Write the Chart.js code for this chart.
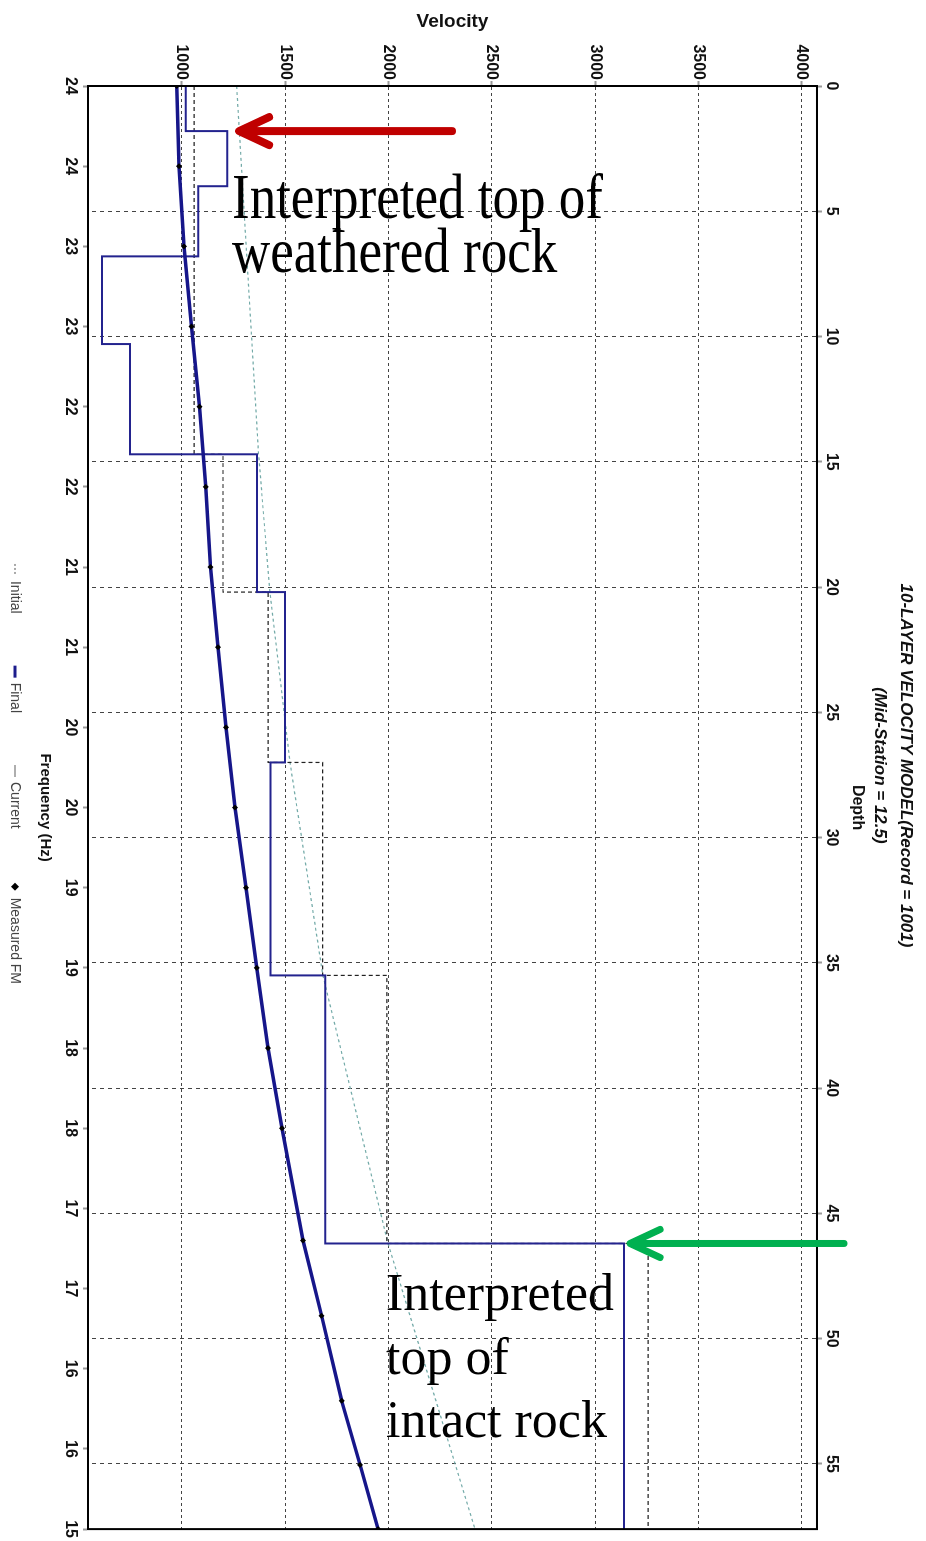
<!DOCTYPE html>
<html>
<head>
<meta charset="utf-8">
<title>10-Layer Velocity Model</title>
<script src="https://cdn.jsdelivr.net/npm/chart.js@4/dist/chart.umd.min.js"></script>
<style>
  html, body { margin: 0; padding: 0; background: #fff; overflow: hidden; }
  /* the plot is laid out landscape and turned a quarter clockwise */
  #wrap {
    position: absolute; left: 0; top: 0;
    width: 1541px; height: 926px;
    transform-origin: 0 0;
    transform: translate(926px, 0) rotate(90deg);
  }
</style>
</head>
<body>
<div id="wrap"><canvas id="model" width="1541" height="926"></canvas></div>
<script>
// layered model: depth to the top of each layer and its velocity
const layerTops = [0, 1.8, 4.0, 6.8, 10.3, 14.7, 20.2, 27.0, 35.5, 46.2];
const finalVel = [1020, 1220, 1080, 615, 750, 1365, 1500, 1430, 1695, 3140];
const initialVel = [1060, 1060, 1060, 1060, 1060, 1200, 1418, 1682, 1993, 3256];

// current curve against depth
const currentDepth = [0, 14.7, 20.2, 27.0, 35.5, 46.2, 57.6];
const currentVel = [1266, 1372, 1427, 1524, 1683, 1998, 2419];

// dispersion picks (frequency in Hz, phase velocity)
const measFreq = [24, 23.5, 23, 22.5, 22, 21.5, 21, 20.5, 20, 19.5, 19, 18.5, 18, 17.5, 16.8, 16.33, 15.8, 15.4, 15];
const measVel = [976, 987, 1011, 1048, 1086, 1116, 1140, 1176, 1214, 1258, 1311, 1363, 1418, 1485, 1587, 1677, 1774, 1863, 1950];

// axes
const depthTicks = [0, 5, 10, 15, 20, 25, 30, 35, 40, 45, 50, 55];
const velTicks = [1000, 1500, 2000, 2500, 3000, 3500, 4000];
const freqTicks = [24, 23.5, 23, 22.5, 22, 21.5, 21, 20.5, 20, 19.5, 19, 18.5, 18, 17.5, 17, 16.5, 16, 15.5, 15];
const freqLabels = ['24', '24', '23', '23', '22', '22', '21', '21', '20', '20', '19', '19', '18', '18', '17', '17', '16', '16', '15'];
const depthMax = 57.6;

const SANS = '"Liberation Sans", Arial, sans-serif';
const SERIF = '"Liberation Serif", "Times New Roman", serif';
Chart.defaults.font.family = SANS;
Chart.defaults.color = '#000';

function steps(vels) {
  const pts = layerTops.map((d, i) => ({ x: d, y: vels[i] }));
  pts.push({ x: depthMax, y: vels[vels.length - 1] });
  return pts;
}

const legendItems = [
  { text: 'Initial', color: '#555', width: 1.2, dash: [2, 2] },
  { text: 'Final', color: '#1c1c8c', width: 3, dash: [] },
  { text: 'Current', color: '#777', width: 1.2, dash: [] },
  { text: 'Measured FM', diamond: true }
];

function drawLegend(ctx) {
  ctx.save();
  ctx.font = '14px ' + SANS;
  ctx.textBaseline = 'middle';
  const y = 911, sym = 12, gap = 52;
  const widths = legendItems.map(it => sym + 5 + ctx.measureText(it.text).width);
  const total = widths.reduce((a, b) => a + b, 0) + gap * (widths.length - 1);
  let x = 774 - total / 2;
  legendItems.forEach((it, i) => {
    if (it.diamond) {
      ctx.fillStyle = '#000';
      ctx.beginPath();
      ctx.moveTo(x + 6, y - 4); ctx.lineTo(x + 10, y); ctx.lineTo(x + 6, y + 4); ctx.lineTo(x + 2, y);
      ctx.closePath();
      ctx.fill();
    } else {
      ctx.strokeStyle = it.color;
      ctx.lineWidth = it.width;
      ctx.setLineDash(it.dash);
      ctx.beginPath();
      ctx.moveTo(x, y); ctx.lineTo(x + sym, y);
      ctx.stroke();
      ctx.setLineDash([]);
    }
    ctx.fillStyle = '#444';
    ctx.fillText(it.text, x + sym + 5, y);
    x += widths[i] + gap;
  });
  ctx.restore();
}

function arrow(ctx, tipX, y, tailX, color, width) {
  ctx.save();
  ctx.strokeStyle = color;
  ctx.lineWidth = width;
  ctx.lineCap = 'round';
  ctx.lineJoin = 'round';
  ctx.beginPath();
  ctx.moveTo(tailX, y); ctx.lineTo(tipX + 4, y);
  ctx.moveTo(tipX + 30, y - 14); ctx.lineTo(tipX, y); ctx.lineTo(tipX + 30, y + 14);
  ctx.stroke();
  ctx.restore();
}

// notes are written upright on the turned page
function drawNotes(ctx, chart) {
  const H = chart.height;
  const depth = chart.scales.depth, vel = chart.scales.vel;
  const yOf = d => depth.getPixelForValue(d);
  const xOf = v => H - vel.getPixelForValue(v);
  ctx.save();
  ctx.translate(0, H);
  ctx.rotate(-Math.PI / 2);

  const yTop = yOf(layerTops[1]);
  arrow(ctx, xOf(finalVel[1]) + 12, yTop, 452, 'rgb(192,0,0)', 8);
  const yRock = yOf(layerTops[9]);
  arrow(ctx, xOf(finalVel[9]) + 6, yRock, 844, 'rgb(0,176,80)', 7);

  ctx.fillStyle = '#000';
  ctx.textAlign = 'left';
  ctx.textBaseline = 'alphabetic';
  ctx.save();
  ctx.font = '53px ' + SERIF;
  ctx.scale(1, 1.2);
  ctx.fillText('Interpreted top of', 232, (yTop + 87) / 1.2);
  ctx.fillText('weathered rock', 232, (yTop + 141) / 1.2);
  ctx.restore();

  ctx.font = '52px ' + SERIF;
  ctx.fillText('Interpreted', 386, yRock + 67);
  ctx.fillText('top of', 386, yRock + 131);
  ctx.fillText('intact rock', 386, yRock + 194);
  ctx.restore();
}

const overlay = {
  id: 'overlay',
  afterDraw(chart) {
    const { ctx, chartArea: a } = chart;
    ctx.save();
    ctx.strokeStyle = '#000';
    ctx.lineWidth = 2;
    ctx.strokeRect(a.left, a.top, a.right - a.left, a.bottom - a.top);
    ctx.restore();
    drawLegend(ctx);
    drawNotes(ctx, chart);
  }
};

const tickFont = { size: 16, weight: 'bold' };

new Chart(document.getElementById('model'), {
  type: 'line',
  data: {
    datasets: [
      {
        label: 'Measured FM',
        xAxisID: 'freq', yAxisID: 'vel',
        data: measFreq.map((f, i) => ({ x: f, y: measVel[i] })),
        borderColor: '#16168a',
        borderWidth: 3.5,
        pointStyle: 'rectRot',
        pointRadius: 3,
        pointBackgroundColor: '#000',
        pointBorderWidth: 0
      },
      {
        label: 'Final',
        xAxisID: 'depth', yAxisID: 'vel',
        data: steps(finalVel),
        stepped: 'before',
        borderColor: '#23238e',
        borderWidth: 2,
        pointRadius: 0
      },
      {
        label: 'Initial',
        xAxisID: 'depth', yAxisID: 'vel',
        data: steps(initialVel),
        stepped: 'before',
        borderColor: '#222',
        borderWidth: 1.2,
        borderDash: [4, 3],
        pointRadius: 0
      },
      {
        label: 'Current',
        xAxisID: 'depth', yAxisID: 'vel',
        data: currentDepth.map((d, i) => ({ x: d, y: currentVel[i] })),
        borderColor: 'rgb(115,170,168)',
        borderWidth: 1.2,
        borderDash: [3, 3],
        pointRadius: 0
      }
    ]
  },
  options: {
    responsive: false,
    animation: false,
    devicePixelRatio: 1,
    layout: { padding: { top: 0, right: 10, bottom: 30, left: 0 } },
    plugins: {
      legend: { display: false },
      tooltip: { enabled: false },
      title: {
        display: true,
        text: ['10-LAYER VELOCITY MODEL(Record = 1001)', '(Mid-Station = 12.5)'],
        font: { size: 17, weight: 'bold', style: 'italic', lineHeight: 1.53 },
        padding: { top: 7, bottom: 0 },
        color: '#111'
      }
    },
    scales: {
      depth: {
        type: 'linear',
        position: 'top',
        min: 0,
        max: depthMax,
        afterBuildTicks: s => { s.ticks = depthTicks.map(v => ({ value: v })); },
        afterFit: s => { s.height = 50; },
        ticks: { font: tickFont, padding: 0, maxRotation: 0, color: '#111', callback: v => String(v) },
        grid: { color: '#444', lineWidth: 1, tickLength: 5, tickColor: '#999', tickWidth: 2 },
        border: { color: '#000', width: 2, dash: [4, 4] },
        title: { display: true, text: 'Depth', font: { size: 16, weight: 'bold' }, padding: 0, color: '#111' }
      },
      freq: {
        type: 'linear',
        position: 'bottom',
        min: 15,
        max: 24,
        reverse: true,
        afterBuildTicks: s => { s.ticks = freqTicks.map(v => ({ value: v })); },
        afterFit: s => { s.height = 58; },
        ticks: { font: tickFont, padding: 3, maxRotation: 0, color: '#111', callback: (v, i) => freqLabels[i] },
        grid: { drawOnChartArea: false, tickLength: 5, tickColor: '#999', tickWidth: 2 },
        border: { color: '#000', width: 2 },
        title: { display: true, text: 'Frequency (Hz)', font: { size: 15, weight: 'bold' }, padding: { top: 0, bottom: 6 }, color: '#111' }
      },
      vel: {
        type: 'linear',
        position: 'left',
        min: 547,
        max: 4073,
        afterBuildTicks: s => { s.ticks = velTicks.map(v => ({ value: v })); },
        afterFit: s => { s.width = 86; },
        ticks: { font: tickFont, padding: 1, color: '#111', callback: v => String(v) },
        grid: { color: '#444', lineWidth: 1, tickLength: 5, tickColor: '#999', tickWidth: 2 },
        border: { color: '#000', width: 2, dash: [3, 3] },
        title: { display: true, text: 'Velocity', font: { size: 19, weight: 'bold' }, padding: { top: 10, bottom: 0 }, color: '#111' }
      }
    }
  },
  plugins: [overlay]
});
</script>
</body>
</html>
